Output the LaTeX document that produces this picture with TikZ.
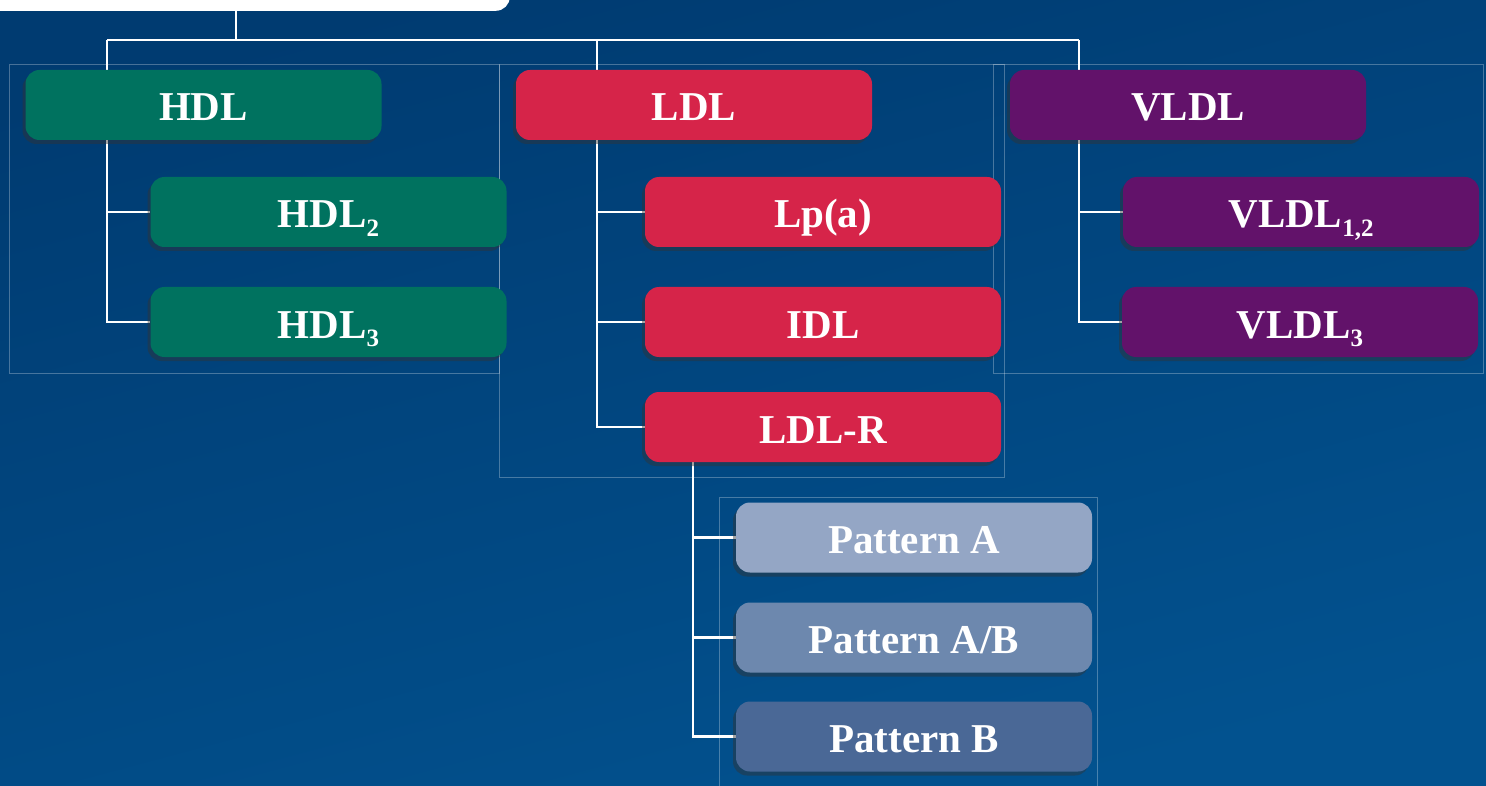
\documentclass[tikz,border=0pt]{standalone}
\usepackage{fontspec}
\setmainfont{Liberation Serif}
\usetikzlibrary{shadows}
\definecolor{bgtop}{HTML}{003B71}
\definecolor{bgbot}{HTML}{02528F}
\definecolor{hdlgreen}{HTML}{00725F}
\definecolor{ldlred}{HTML}{D62449}
\definecolor{vldlpurple}{HTML}{62126A}
\definecolor{patA}{HTML}{94A6C5}
\definecolor{patAB}{HTML}{6D88AE}
\definecolor{patB}{HTML}{4A6896}
\newcommand\lsub[1]{\raisebox{-9pt}{\fontsize{25}{25}\selectfont #1}}
\pgfdeclarelayer{back}
\pgfdeclarelayer{bg}
\pgfsetlayers{back,bg,main}
\begin{document}
\begin{tikzpicture}[x=1pt,y=-1pt,
  box/.style={rounded corners=14pt, minimum width=356pt, minimum height=70pt,
    inner sep=0pt, text=white, text height=36pt, text depth=4pt,
    font=\fontsize{41}{46}\selectfont\bfseries,
    drop shadow={shadow xshift=-3pt, shadow yshift=-4pt, opacity=0.45, fill=black!80}},
  link/.style={draw=white, line width=2.6pt},
  frame/.style={draw=white, draw opacity=0.28, line width=0.8pt}]
\begin{pgfonlayer}{back}
\shade[top color=bgtop, bottom color=bgbot, shading angle=15] (0,0) rectangle (1486,786);
\end{pgfonlayer}
\useasboundingbox (0,0) rectangle (1486,786);
% title bar (white)
\node[fill=white, rounded corners=14pt, minimum width=560pt, minimum height=50pt, inner sep=0pt, anchor=south east] (title) at (510,11) {};
% level 1
\node[box, fill=hdlgreen] (hdl) at (203.5,105) {HDL};
\node[box, fill=ldlred] (ldl) at (694,105) {LDL};
\node[box, fill=vldlpurple] (vldl) at (1188,105) {VLDL};
% level 2
\node[box, fill=hdlgreen] (hdl2) at (328.5,212) {HDL\lsub{2}};
\node[box, fill=hdlgreen] (hdl3) at (328.5,322) {HDL\lsub{3}};
\node[box, fill=ldlred] (lpa) at (823,212) {Lp(a)};
\node[box, fill=ldlred] (idl) at (823,322) {IDL};
\node[box, fill=ldlred] (ldlr) at (823,427) {LDL-R};
\node[box, fill=vldlpurple] (vldl12) at (1301,212) {VLDL\lsub{1,2}};
\node[box, fill=vldlpurple] (vldl3) at (1300,322) {VLDL\lsub{3}};
% level 3
\node[box, fill=patA] (pa) at (914,537.5) {Pattern A};
\node[box, fill=patAB] (pab) at (914,637.5) {Pattern A/B};
\node[box, fill=patB] (pb) at (914,736.5) {Pattern B};
% junction coordinates
\coordinate (j0) at (236,40);
\coordinate (hx) at (107,40);
\coordinate (lx) at (597,40);
\coordinate (vx) at (1079,40);
\coordinate (rx) at (693,462);
\begin{pgfonlayer}{bg}
% frames
\draw[frame] (9,64) rectangle (499,373);
\draw[frame] (499,64) rectangle (1004,477);
\draw[frame] (993,64) rectangle (1483,373);
\draw[frame] (719,497) rectangle (1097,800);
% connectors
\draw[link] (title.south -| j0) -- (j0);
\draw[link] (hx) -- (vx);
\draw[link] (hx) -- (hx |- hdl3.west) -- (hdl3.west);
\draw[link] (hx |- hdl2.west) -- (hdl2.west);
\draw[link] (lx) -- (lx |- ldlr.west) -- (ldlr.west);
\draw[link] (lx |- lpa.west) -- (lpa.west);
\draw[link] (lx |- idl.west) -- (idl.west);
\draw[link] (vx) -- (vx |- vldl3.west) -- (vldl3.west);
\draw[link] (vx |- vldl12.west) -- (vldl12.west);
\draw[link] (rx |- ldlr.south) -- (rx |- pb.west) -- (pb.west);
\draw[link] (rx |- pa.west) -- (pa.west);
\draw[link] (rx |- pab.west) -- (pab.west);
\end{pgfonlayer}
\end{tikzpicture}
\end{document}
